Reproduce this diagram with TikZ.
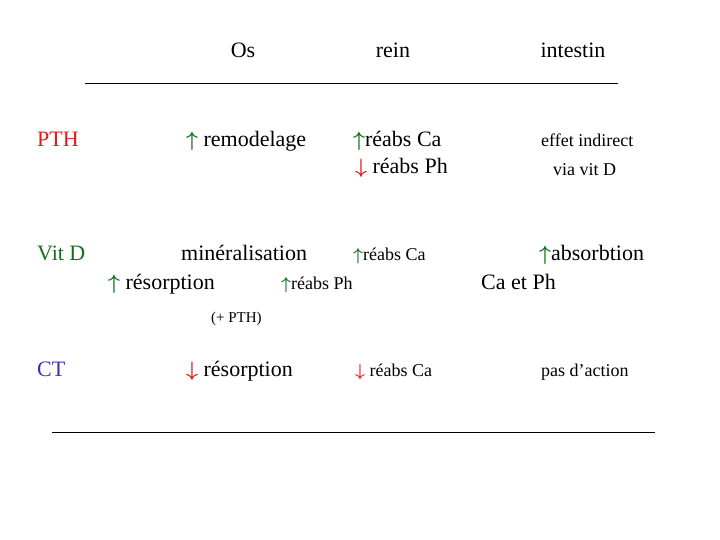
\documentclass[tikz,border=0pt]{standalone}
\usepackage{amsmath}
\usepackage{bm}
\usepackage{fontspec}
\setmainfont{Liberation Serif}
\usepackage{tikz}
\definecolor{upGreen}{rgb}{0.05,0.45,0.1}
\definecolor{downRed}{rgb}{0.9,0.1,0.1}
\definecolor{ctBlue}{rgb}{0.2,0.2,0.7}
\newcommand{\hup}{{\color{upGreen}$\bm{\uparrow}$}}
\newcommand{\hdown}{{\color{downRed}$\bm{\downarrow}$}}
\tikzset{
  big/.style={anchor=base west, inner sep=0pt, font=\fontsize{22}{26}\selectfont},
  small/.style={anchor=base west, inner sep=0pt, font=\fontsize{18}{22}\selectfont},
  tiny/.style={anchor=base west, inner sep=0pt, font=\fontsize{15}{18}\selectfont},
  head/.style={anchor=base, inner sep=0pt, font=\fontsize{22}{26}\selectfont}
}
\begin{document}
\begin{tikzpicture}[x=1pt, y=-1pt]
  \useasboundingbox (0,0) rectangle (720,540);
  % column heads
  \node[head] (os) at (243,58) {Os};
  \node[head] (rein) at (393,58) {rein};
  \node[head] (intestin) at (573,58) {intestin};
  \coordinate (t1) at (85,83);
  \coordinate (t2) at (618,83);
  \draw (t1) -- (t2);

  % PTH
  \node[big, text=downRed] (pth) at (37,147) {PTH};
  \node[big] (pthos) at (186,147) {\hup\ remodelage};
  \node[big] (pthca) at (353,147) {\hup réabs Ca};
  \node[big] (pthph) at (355,174) {\hdown\ réabs Ph};
  \node[small] (pthint1) at (541,147) {effet indirect};
  \node[small] (pthint2) at (553,176) {via vit D};

  % Vit D
  \node[big, text=upGreen] (vitd) at (37,260) {Vit D};
  \node[big] (vitmin) at (181,260) {minéralisation};
  \node[big] (vitres) at (108,289) {\hup\ résorption};
  \node[small] (vitca) at (353,260) {\hup réabs Ca};
  \node[small] (vitph) at (281,289) {\hup réabs Ph};
  \node[big] (vitabs) at (539,260) {\hup absorbtion};
  \node[big] (vitcaph) at (481,289) {Ca et Ph};
  \node[tiny] (vitpth) at (211,322) {(+ PTH)};

  % CT
  \node[big, text=ctBlue] (ct) at (37,376) {CT};
  \node[big] (ctres) at (186,376) {\hdown\ résorption};
  \node[small] (ctca) at (355,376) {\hdown\ réabs Ca};
  \node[small] (ctint) at (541,376) {pas d’action};

  \coordinate (b1) at (52,432);
  \coordinate (b2) at (655,432);
  \draw (b1) -- (b2);
\end{tikzpicture}
\end{document}
